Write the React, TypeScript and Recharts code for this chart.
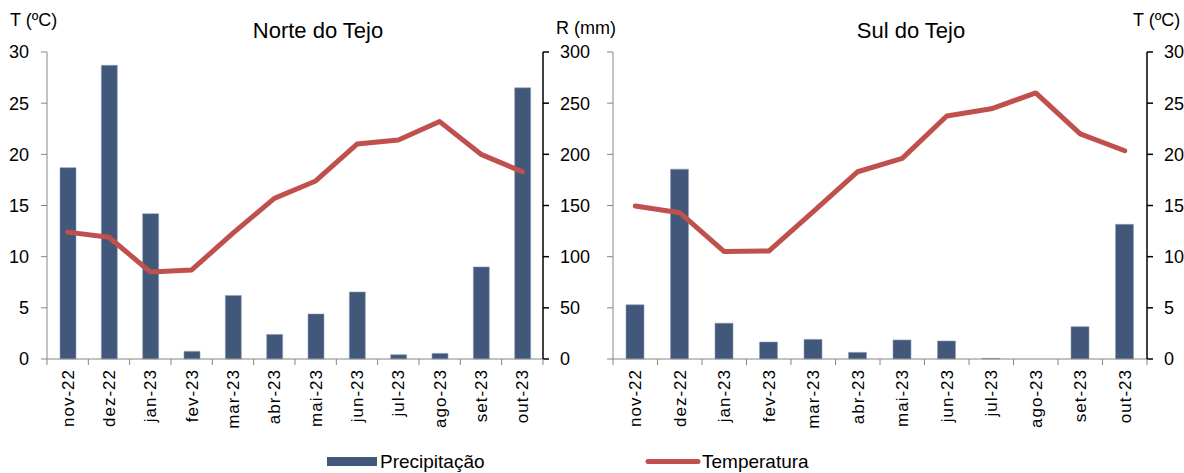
import { Bar, ComposedChart, Line, XAxis, YAxis } from "recharts";

const MONTHS = ["nov-22", "dez-22", "jan-23", "fev-23", "mar-23", "abr-23", "mai-23", "jun-23", "jul-23", "ago-23", "set-23", "out-23"];

// Norte do Tejo
const NORTE_PRECIP = [187, 287, 142, 7.5, 62, 24, 44, 65.5, 4.2, 5.5, 90, 265];
const NORTE_TEMP = [12.4, 11.9, 8.5, 8.7, 12.3, 15.7, 17.4, 21.0, 21.4, 23.2, 20.0, 18.3];

// Sul do Tejo
const SUL_PRECIP = [53, 185.5, 35, 16.6, 19.2, 6.5, 18.6, 17.6, 0.6, 0, 31.6, 131.6];
const SUL_TEMP = [14.95, 14.3, 10.5, 10.55, 14.4, 18.3, 19.6, 23.75, 24.45, 26.0, 22.0, 20.35];

const T_TICKS = [0, 5, 10, 15, 20, 25, 30];
const R_TICKS = [0, 50, 100, 150, 200, 250, 300];

const FONT = "'Liberation Sans', Arial, sans-serif";
const BAR_COLOR = "#41587a";
const LINE_COLOR = "#c0504d";
const GRAY = "#868686";

const toRows = (precip: number[], temp: number[]) =>
  MONTHS.map((m, i) => ({ month: m, precip: precip[i], temp: temp[i] }));

function MonthTick(props: any) {
  const { x, y, payload, index, band } = props;
  const last = index === MONTHS.length - 1;
  return (
    <g>
      <line x1={x - band / 2} x2={x - band / 2} y1={y} y2={y + 6} stroke={GRAY} />
      {last && <line x1={x + band / 2} x2={x + band / 2} y1={y} y2={y + 6} stroke={GRAY} />}
      <text
        transform={`translate(${x},${y + 10}) rotate(-90)`}
        textAnchor="end"
        dy="0.36em"
        fontSize={17}
        letterSpacing={1}
        fontFamily={FONT}
        fill="#000"
      >
        {payload.value}
      </text>
    </g>
  );
}

type PanelProps = {
  rows: { month: string; precip: number; temp: number }[];
  width: number;
  leftWidth: number;
  rightWidth: number;
  tempOnLeft: boolean;
  barSize: number;
};

function Panel({ rows, width, leftWidth, rightWidth, tempOnLeft, barSize }: PanelProps) {
  const band = (width - leftWidth - rightWidth) / MONTHS.length;
  const tick = { fontSize: 18, fill: "#000", fontFamily: FONT };
  return (
    <ComposedChart
      width={width}
      height={473}
      data={rows}
      margin={{ top: 52, right: 0, bottom: 34, left: 0 }}
    >
      <XAxis
        dataKey="month"
        xAxisId="x"
        height={80}
        interval={0}
        tickLine={false}
        tickSize={0}
        tickMargin={0}
        axisLine={{ stroke: GRAY }}
        tick={<MonthTick band={band} />}
      />
      <YAxis
        yAxisId="T"
        orientation={tempOnLeft ? "left" : "right"}
        width={tempOnLeft ? leftWidth : rightWidth}
        domain={[0, 30]}
        ticks={T_TICKS}
        interval={0}
        tickSize={6}
        tickMargin={tempOnLeft ? 12 : 11}
        axisLine={{ stroke: tempOnLeft ? GRAY : "#000", strokeWidth: tempOnLeft ? 1 : 1.5 }}
        tickLine={{ stroke: tempOnLeft ? GRAY : "#000", strokeWidth: tempOnLeft ? 1 : 1.5 }}
        tick={tick}
      />
      <YAxis
        yAxisId="R"
        orientation={tempOnLeft ? "right" : "left"}
        width={tempOnLeft ? rightWidth : leftWidth}
        domain={[0, 300]}
        ticks={R_TICKS}
        interval={0}
        tickSize={6}
        tickMargin={11}
        tickFormatter={(v: number) => (tempOnLeft ? String(v) : "")}
        axisLine={{ stroke: tempOnLeft ? "#000" : GRAY, strokeWidth: tempOnLeft ? 1.5 : 1 }}
        tickLine={{ stroke: tempOnLeft ? "#000" : GRAY, strokeWidth: tempOnLeft ? 1.5 : 1 }}
        tick={tick}
      />
      <Bar
        dataKey="precip"
        xAxisId="x"
        yAxisId="R"
        fill={BAR_COLOR}
        stroke="#8fa0b8"
        strokeWidth={0.6}
        barSize={barSize}
        isAnimationActive={false}
      />
      <Line
        dataKey="temp"
        xAxisId="x"
        yAxisId="T"
        type="linear"
        stroke={LINE_COLOR}
        strokeWidth={5}
        strokeLinecap="round"
        strokeLinejoin="round"
        dot={false}
        activeDot={false}
        isAnimationActive={false}
      />
    </ComposedChart>
  );
}

const textStyle = (left: number, top: number, size: number): React.CSSProperties => ({
  position: "absolute",
  left,
  top,
  fontSize: size,
  fontFamily: FONT,
  color: "#000",
  whiteSpace: "nowrap",
  lineHeight: 1,
});

export default function App() {
  return (
    <div style={{ position: "absolute", left: 0, top: 0, width: 1184, height: 473, background: "#fff", overflow: "hidden" }}>
      <div style={{ position: "absolute", left: 0, top: 0 }}>
        <Panel rows={toRows(NORTE_PRECIP, NORTE_TEMP)} width={600} leftWidth={47} rightWidth={57} tempOnLeft barSize={16} />
      </div>
      <div style={{ position: "absolute", left: 566, top: 0 }}>
        <Panel rows={toRows(SUL_PRECIP, SUL_TEMP)} width={618} leftWidth={47} rightWidth={37} tempOnLeft={false} barSize={18} />
      </div>
      <div style={textStyle(10, 11, 18)}>T (ºC)</div>
      <div style={textStyle(556, 19, 18)}>R (mm)</div>
      <div style={textStyle(1133, 11, 18)}>T (ºC)</div>
      <div style={{ ...textStyle(0, 20, 22), width: 636, textAlign: "center" }}>Norte do Tejo</div>
      <div style={{ ...textStyle(613, 20, 22), width: 596, textAlign: "center" }}>Sul do Tejo</div>
      <svg style={{ position: "absolute", left: 0, top: 440 }} width={1184} height={33}>
        <rect x={327} y={17} width={50} height={9} fill={BAR_COLOR} />
        <text x={380} y={28} fontSize={19} fontFamily={FONT} fill="#000">Precipitação</text>
        <line x1={648} x2={698} y1={21.5} y2={21.5} stroke={LINE_COLOR} strokeWidth={5} strokeLinecap="round" />
        <text x={702} y={28} fontSize={19} fontFamily={FONT} fill="#000">Temperatura</text>
      </svg>
    </div>
  );
}
